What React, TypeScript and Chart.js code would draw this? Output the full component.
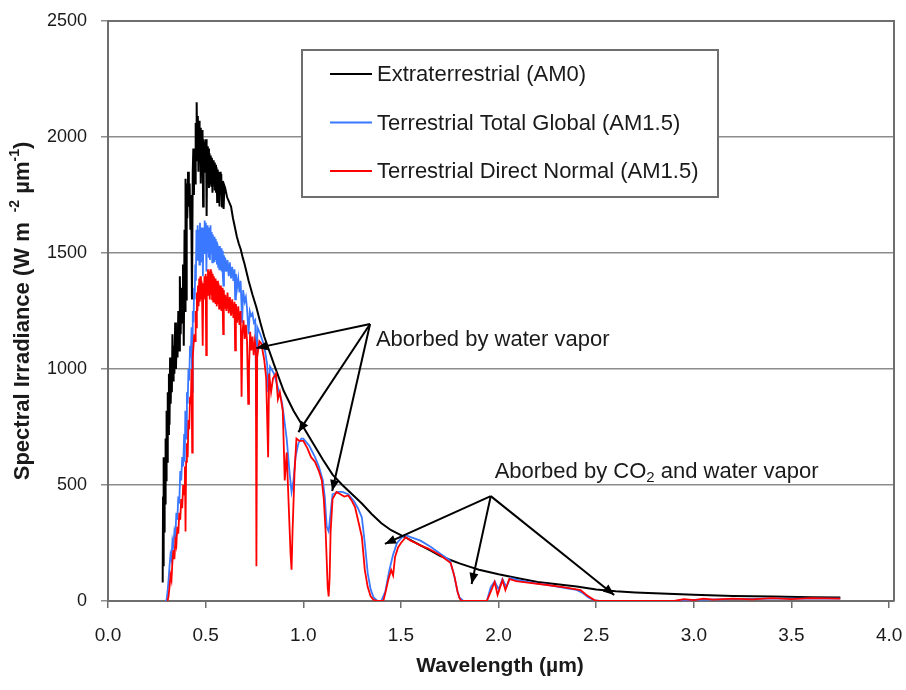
import React, { useEffect, useRef } from 'react';
import { Chart, registerables } from 'chart.js';

Chart.register(...registerables);

// ---------- data (wavelength in µm, spectral irradiance in W m-2 µm-1) ----------
const am0Wavelength = [
  0.280, 0.282, 0.284, 0.286, 0.288, 0.290, 0.292, 0.295, 0.298, 0.300, 0.303, 0.306, 0.309, 0.312, 0.315,
  0.318, 0.321, 0.324, 0.327, 0.330, 0.333, 0.336, 0.340, 0.344, 0.348, 0.352, 0.356, 0.360, 0.364, 0.368,
  0.372, 0.376, 0.380, 0.384, 0.388, 0.392, 0.395, 0.397, 0.400, 0.403, 0.406, 0.410, 0.414, 0.418, 0.422,
  0.426, 0.430, 0.434, 0.437,
  0.440, 0.443, 0.446, 0.449, 0.452, 0.454, 0.457, 0.460, 0.463, 0.466, 0.469, 0.472, 0.475, 0.478, 0.481,
  0.484, 0.487, 0.490, 0.493, 0.496, 0.499, 0.502, 0.505, 0.508, 0.511, 0.514, 0.517, 0.520, 0.523, 0.526,
  0.529, 0.532, 0.535, 0.538, 0.541, 0.544, 0.547, 0.550, 0.553, 0.556, 0.559, 0.562, 0.565, 0.568, 0.571,
  0.574, 0.577, 0.580, 0.584, 0.588, 0.592, 0.596,
  0.600, 0.610, 0.620, 0.630, 0.640, 0.650, 0.660, 0.670, 0.680, 0.690, 0.700, 0.720, 0.740, 0.760, 0.780,
  0.800, 0.850, 0.900, 0.950, 1.000, 1.050, 1.100, 1.150, 1.200, 1.250, 1.300, 1.350, 1.400, 1.450, 1.500,
  1.550, 1.600, 1.650, 1.700, 1.750, 1.800, 1.850, 1.900, 1.950, 2.000, 2.100, 2.200, 2.300, 2.400, 2.500,
  2.600, 2.700, 2.800, 3.000, 3.200, 3.400, 3.600, 3.750,
];
const am0Irradiance = [
  80, 450, 150, 620, 300, 560, 420, 700, 520, 820, 600, 900, 720, 980, 760,
  1050, 850, 1000, 900, 1150, 950, 1100, 980, 1200, 1000, 1150, 1050, 1250, 1080, 1400,
  1150, 1350, 1200, 1450, 1100, 1600, 1250, 1820, 1300, 1800, 1650, 1850, 1700, 1800, 1600,
  1750, 1300, 1850, 1950,
  1750, 1950, 1800, 2060, 1900, 2150, 1950, 2090, 1850, 2070, 1920, 2040, 1800, 2010, 1880,
  2030, 1700, 1990, 1850, 1980, 1870, 1990, 1660, 1960, 1820, 1950, 1780, 1930, 1800, 1920,
  1790, 1910, 1760, 1900, 1790, 1890, 1770, 1880, 1760, 1870, 1720, 1860, 1740, 1850, 1700,
  1850, 1750, 1840, 1700, 1810, 1690, 1790,
  1780, 1740, 1720, 1700, 1650, 1610, 1570, 1540, 1515, 1480, 1450, 1380, 1320, 1265, 1200,
  1140, 1020, 905, 820, 750, 680, 610, 545, 500, 460, 420, 375, 335, 305, 284,
  262, 240, 218, 195, 178, 162, 148, 135, 125, 115, 98, 82, 72, 62, 50,
  42, 37, 33, 27, 22, 19, 16, 15,
];

const globalWavelength = [
  0.295, 0.300, 0.305, 0.310, 0.315, 0.320, 0.325, 0.330, 0.335, 0.340, 0.345, 0.350, 0.355, 0.360, 0.365,
  0.370, 0.375, 0.380, 0.385, 0.390, 0.393, 0.396, 0.400, 0.404, 0.408, 0.412, 0.416, 0.420, 0.424, 0.428,
  0.431, 0.434, 0.438, 0.441,
  0.444, 0.447, 0.450, 0.453, 0.456, 0.459, 0.462, 0.465, 0.468, 0.471, 0.474, 0.477, 0.480, 0.483, 0.486,
  0.489, 0.492, 0.495, 0.498, 0.501, 0.504, 0.507, 0.510, 0.513, 0.516, 0.519, 0.522, 0.525, 0.528, 0.531,
  0.534, 0.537, 0.540, 0.543, 0.546, 0.549, 0.552, 0.555, 0.558, 0.561, 0.564, 0.567, 0.570, 0.573, 0.576,
  0.579, 0.582, 0.585, 0.588, 0.591, 0.594, 0.597,
  0.600, 0.606, 0.612, 0.618, 0.624, 0.630, 0.636, 0.642, 0.648, 0.651, 0.655, 0.661, 0.667, 0.673, 0.679,
  0.687, 0.692, 0.700, 0.706, 0.712, 0.720, 0.726, 0.733, 0.740, 0.747, 0.754, 0.760, 0.765,
  0.780, 0.800, 0.815, 0.820, 0.830, 0.850, 0.870, 0.890, 0.900, 0.915, 0.930, 0.940, 0.950, 0.960, 0.975,
  0.990, 1.000, 1.030, 1.060, 1.080, 1.100, 1.110, 1.120, 1.130, 1.140, 1.150, 1.180, 1.200, 1.230, 1.260,
  1.280, 1.300, 1.315, 1.330, 1.345, 1.360, 1.380, 1.400, 1.420, 1.440, 1.460, 1.480, 1.500, 1.520, 1.550,
  1.600, 1.650, 1.700, 1.750, 1.770, 1.790, 1.800, 1.820, 1.940, 1.960, 1.980, 2.000, 2.020, 2.040, 2.060,
  2.100, 2.150, 2.200, 2.250, 2.300, 2.350, 2.400, 2.430, 2.460, 2.490, 2.520, 2.900, 3.000, 3.200, 3.400,
  3.600, 3.750,
];
const globalIrradiance = [
  0, 5, 40, 90, 150, 200, 180, 260, 240, 300, 280, 380, 350, 450, 420,
  560, 520, 620, 580, 720, 600, 820, 700, 900, 850, 1000, 950, 1100, 1050, 1180,
  900, 1250, 1200, 1350,
  1300, 1450, 1380, 1600, 1470, 1620, 1500, 1600, 1450, 1630, 1510, 1610, 1460, 1600, 1400,
  1610, 1500, 1640, 1520, 1630, 1420, 1620, 1500, 1600, 1480, 1610, 1470, 1620, 1500, 1590,
  1460, 1580, 1470, 1570, 1460, 1560, 1470, 1550, 1450, 1540, 1440, 1530, 1430, 1530, 1440,
  1520, 1420, 1510, 1400, 1360, 1490, 1420,
  1480, 1420, 1470, 1400, 1460, 1390, 1440, 1380, 1430, 1300, 1410, 1350, 1390, 1330, 1380,
  1200, 1340, 1290, 1310, 1260, 1150, 1250, 1230, 1240, 1200, 1210, 800, 1180,
  1150, 1100, 1020, 900, 1010, 980, 920, 860, 800, 700, 550, 470, 520, 620, 680,
  700, 700, 670, 620, 580, 520, 450, 320, 300, 380, 460, 470, 470, 460, 430,
  400, 360, 250, 120, 50, 15, 0, 2, 40, 130, 200, 250, 270, 285, 275,
  260, 235, 205, 175, 120, 40, 15, 0, 0, 60, 85, 50, 95, 60, 100,
  90, 82, 75, 70, 62, 55, 48, 35, 15, 3, 0, 0, 5, 8, 10,
  10, 10,
];

const directWavelength = [
  0.305, 0.310, 0.315, 0.320, 0.325, 0.330, 0.335, 0.340, 0.345, 0.350, 0.355, 0.360, 0.365, 0.370, 0.375,
  0.380, 0.385, 0.390, 0.394, 0.397, 0.400, 0.404, 0.408, 0.412, 0.416, 0.420, 0.424, 0.428, 0.431, 0.434,
  0.438, 0.442,
  0.446, 0.449, 0.452, 0.455, 0.458, 0.461, 0.464, 0.467, 0.470, 0.473, 0.476, 0.479, 0.482, 0.485, 0.488,
  0.491, 0.494, 0.497, 0.500, 0.503, 0.506, 0.509, 0.512, 0.515, 0.518, 0.521, 0.524, 0.527, 0.530, 0.533,
  0.536, 0.539, 0.542, 0.545, 0.548, 0.551, 0.554, 0.557, 0.560, 0.563, 0.566, 0.569, 0.572, 0.575, 0.578,
  0.581, 0.584, 0.587, 0.590, 0.593, 0.596,
  0.600, 0.606, 0.612, 0.618, 0.624, 0.630, 0.636, 0.642, 0.648, 0.651, 0.655, 0.661, 0.667, 0.673, 0.679,
  0.684, 0.688, 0.694, 0.700, 0.706, 0.712, 0.718, 0.722, 0.728, 0.734, 0.740, 0.746, 0.752, 0.757, 0.760,
  0.764,
  0.775, 0.785, 0.800, 0.810, 0.820, 0.825, 0.835, 0.845, 0.860, 0.870, 0.880, 0.895, 0.905, 0.915, 0.925,
  0.935, 0.940, 0.945, 0.955, 0.965, 0.980, 1.000, 1.020, 1.040, 1.060, 1.080, 1.095, 1.105, 1.115, 1.125,
  1.130, 1.135, 1.140, 1.150, 1.170, 1.190, 1.210, 1.230, 1.250, 1.265, 1.280, 1.300, 1.315, 1.330, 1.345,
  1.360, 1.380, 1.410, 1.420, 1.435, 1.450, 1.460, 1.470, 1.485, 1.500, 1.525, 1.550, 1.570, 1.600, 1.640,
  1.700, 1.755, 1.775, 1.790, 1.800, 1.810, 1.940, 1.960, 1.980, 1.995, 2.020, 2.035, 2.055, 2.090, 2.160,
  2.250, 2.330, 2.420, 2.450, 2.490, 2.510, 2.900, 2.950, 3.000, 3.050, 3.100, 3.200, 3.300, 3.400, 3.500,
  3.600, 3.750,
];
const directIrradiance = [
  0, 20, 60, 110, 90, 170, 220, 180, 260, 240, 320, 290, 380, 350, 440,
  400, 500, 460, 580, 300, 600, 680, 620, 780, 740, 880, 850, 1000, 640, 1050,
  1100, 1150,
  1120, 1250, 1180, 1330, 1250, 1360, 1270, 1390, 1290, 1400, 1300, 1380, 1290, 1100, 1370,
  1300, 1400, 1310, 1410, 1060, 1400, 1320, 1430, 1330, 1420, 1300, 1430, 1320, 1420, 1300,
  1410, 1290, 1400, 1300, 1390, 1280, 1380, 1270, 1380, 1280, 1370, 1260, 1360, 1280, 1360,
  1250, 1350, 1280, 1150, 1340, 1260,
  1320, 1250, 1330, 1240, 1310, 1230, 1300, 1220, 1290, 1080, 1280, 1200, 1270, 1190, 1250,
  880, 1150, 1210, 1130, 1190, 1120, 850, 1000, 1160, 1080, 1140, 1060, 1120, 1090, 150,
  1050,
  1120, 1110, 1040, 960, 620, 980, 900, 960, 980, 870, 900, 820, 520, 640, 420,
  200, 135, 300, 550, 700, 690, 690, 660, 620, 600, 560, 520, 440, 290, 60,
  20, 100, 300, 440, 470, 460, 450, 455, 430, 405, 350, 276, 134, 60, 20,
  5, 0, 0, 34, 90, 134, 110, 190, 230, 250, 275, 260, 252, 240, 226,
  198, 164, 103, 40, 12, 0, 0, 40, 82, 26, 90, 47, 95, 86, 78,
  69, 60, 47, 26, 4, 0, 0, 8, 4, 10, 6, 10, 7, 12, 8,
  12, 10,
];

const xTickValues = [0, 0.5, 1.0, 1.5, 2.0, 2.5, 3.0, 3.5, 4.0];

const seriesLabels = [
  'Extraterrestrial (AM0)',
  'Terrestrial Total Global (AM1.5)',
  'Terrestrial Direct Normal (AM1.5)',
];
const seriesColors = ['#000000', '#3a78ff', '#ff0000'];

// annotation text anchors and arrows (data coordinates)
const waterText = { x: 1.372, y: 1125, text: 'Aborbed by water vapor' };
const waterOrigin = { x: 1.342, y: 1194 };
const waterTips = [
  { x: 0.76, y: 1090 },
  { x: 0.975, y: 728 },
  { x: 1.148, y: 474 },
];
const co2Text = { x: 1.98, y: 556 };
const co2Origin = { x: 1.96, y: 452 };
const co2Tips = [
  { x: 1.418, y: 246 },
  { x: 1.862, y: 73 },
  { x: 2.592, y: 26 },
];

const FONT = '"Liberation Sans", Arial, Helvetica, sans-serif';

function toPoints(xs: number[], ys: number[]) {
  return xs.map((x, i) => ({ x, y: ys[i] }));
}

function drawArrow(ctx: CanvasRenderingContext2D, x1: number, y1: number, x2: number, y2: number) {
  ctx.beginPath();
  ctx.moveTo(x1, y1);
  ctx.lineTo(x2, y2);
  ctx.stroke();
  const a = Math.atan2(y2 - y1, x2 - x1);
  const L = 11;
  const W = 4.5;
  const bx = x2 - L * Math.cos(a);
  const by = y2 - L * Math.sin(a);
  ctx.beginPath();
  ctx.moveTo(x2, y2);
  ctx.lineTo(bx + W * Math.sin(a), by - W * Math.cos(a));
  ctx.lineTo(bx - W * Math.sin(a), by + W * Math.cos(a));
  ctx.closePath();
  ctx.fill();
}

const overlayPlugin = {
  id: 'overlay',
  afterDatasetsDraw(chart: any) {
    const { ctx, chartArea } = chart;
    ctx.save();
    ctx.strokeStyle = '#6e6e6e';
    ctx.lineWidth = 2;
    ctx.beginPath();
    ctx.moveTo(chartArea.left, chartArea.top);
    ctx.lineTo(chartArea.right, chartArea.top);
    ctx.lineTo(chartArea.right, chartArea.bottom);
    ctx.stroke();
    ctx.restore();
  },
  afterDraw(chart: any) {
    const { ctx, chartArea } = chart;
    const xs = chart.scales.x;
    const ys = chart.scales.y;
    const px = (v: number) => xs.getPixelForValue(v);
    const py = (v: number) => ys.getPixelForValue(v);
    ctx.save();

    // legend box
    const lx = 302, ly = 50, lw = 416, lh = 147;
    ctx.fillStyle = '#ffffff';
    ctx.fillRect(lx, ly, lw, lh);
    ctx.strokeStyle = '#6e6e6e';
    ctx.lineWidth = 2;
    ctx.strokeRect(lx, ly, lw, lh);
    ctx.font = `22px ${FONT}`;
    ctx.textBaseline = 'middle';
    ctx.textAlign = 'left';
    seriesLabels.forEach((label, i) => {
      const yy = ly + 24 + i * 48.5;
      ctx.strokeStyle = seriesColors[i];
      ctx.lineWidth = 2;
      ctx.beginPath();
      ctx.moveTo(lx + 28, yy);
      ctx.lineTo(lx + 70, yy);
      ctx.stroke();
      ctx.fillStyle = '#1a1a1a';
      ctx.fillText(label, lx + 75, yy + 1);
    });

    // annotations
    ctx.strokeStyle = '#000';
    ctx.fillStyle = '#000';
    ctx.lineWidth = 2;
    waterTips.forEach((t) => drawArrow(ctx, px(waterOrigin.x), py(waterOrigin.y), px(t.x), py(t.y)));
    co2Tips.forEach((t) => drawArrow(ctx, px(co2Origin.x), py(co2Origin.y), px(t.x), py(t.y)));

    ctx.fillStyle = '#1a1a1a';
    ctx.font = `22px ${FONT}`;
    ctx.textBaseline = 'middle';
    ctx.fillText(waterText.text, px(waterText.x), py(waterText.y));

    let cx = px(co2Text.x);
    const cy = py(co2Text.y);
    const p1 = 'Aborbed by CO';
    ctx.fillText(p1, cx, cy);
    cx += ctx.measureText(p1).width;
    ctx.font = `15px ${FONT}`;
    ctx.fillText('2', cx, cy + 6);
    cx += ctx.measureText('2').width;
    ctx.font = `22px ${FONT}`;
    ctx.fillText(' and water vapor', cx, cy);

    // x axis title
    ctx.font = `bold 21px ${FONT}`;
    ctx.textAlign = 'center';
    ctx.fillStyle = '#1a1a1a';
    ctx.fillText('Wavelength (\u00b5m)', 500, 666);

    // y axis title with superscripts
    const parts: { t: string; sup: boolean }[] = [
      { t: 'Spectral Irradiance (W m ', sup: false },
      { t: ' -2', sup: true },
      { t: ' \u00b5m', sup: false },
      { t: '-1', sup: true },
      { t: ')', sup: false },
    ];
    const bigFont = `bold 22px ${FONT}`;
    const smallFont = `bold 14px ${FONT}`;
    let total = 0;
    parts.forEach((p) => {
      ctx.font = p.sup ? smallFont : bigFont;
      total += ctx.measureText(p.t).width;
    });
    ctx.translate(23, (chartArea.top + chartArea.bottom) / 2);
    ctx.rotate(-Math.PI / 2);
    ctx.textAlign = 'left';
    let tx = -total / 2;
    parts.forEach((p) => {
      ctx.font = p.sup ? smallFont : bigFont;
      ctx.fillText(p.t, tx, p.sup ? -8 : 0);
      tx += ctx.measureText(p.t).width;
    });
    ctx.restore();
  },
};

export default function App() {
  const canvasRef = useRef<HTMLCanvasElement>(null);

  useEffect(() => {
    if (!canvasRef.current) return;
    const chart = new Chart(canvasRef.current, {
      type: 'line',
      data: {
        datasets: [
          {
            label: seriesLabels[0],
            data: toPoints(am0Wavelength, am0Irradiance),
            borderColor: seriesColors[0],
            borderWidth: 2,
            pointRadius: 0,
            tension: 0,
            order: 2,
          },
          {
            label: seriesLabels[1],
            data: toPoints(globalWavelength, globalIrradiance),
            borderColor: seriesColors[1],
            borderWidth: 1.8,
            pointRadius: 0,
            tension: 0,
            order: 1,
          },
          {
            label: seriesLabels[2],
            data: toPoints(directWavelength, directIrradiance),
            borderColor: seriesColors[2],
            borderWidth: 1.8,
            pointRadius: 0,
            tension: 0,
            order: 0,
          },
        ],
      },
      options: {
        responsive: false,
        animation: false,
        devicePixelRatio: 1,
        events: [],
        layout: { padding: { left: 0, top: 21, right: 12, bottom: 0 } },
        plugins: {
          legend: { display: false },
          tooltip: { enabled: false },
          title: { display: false },
        },
        scales: {
          x: {
            type: 'linear',
            min: 0,
            max: 4.025,
            afterBuildTicks: (scale: any) => {
              scale.ticks = xTickValues.map((v) => ({ value: v }));
            },
            afterFit: (scale: any) => {
              scale.height = 89;
              scale.paddingLeft = 0;
              scale.paddingRight = 0;
            },
            ticks: {
              callback: (v: any) => Number(v).toFixed(1),
              font: { family: FONT, size: 19 },
              color: '#1a1a1a',
              padding: 16,
              maxRotation: 0,
              autoSkip: false,
            },
            grid: {
              drawOnChartArea: false,
              drawTicks: true,
              tickLength: 7,
              color: '#6e6e6e',
              lineWidth: 1.5,
            },
            border: { color: '#6e6e6e', width: 2 },
          },
          y: {
            type: 'linear',
            min: 0,
            max: 2500,
            afterFit: (scale: any) => {
              scale.width = 108;
              scale.paddingTop = 0;
              scale.paddingBottom = 0;
            },
            ticks: {
              stepSize: 500,
              callback: (v: any) => String(v),
              font: { family: FONT, size: 18 },
              color: '#1a1a1a',
              padding: 14,
            },
            grid: {
              color: '#8c8c8c',
              lineWidth: 1.5,
              tickLength: 7,
            },
            border: { color: '#6e6e6e', width: 2 },
          },
        },
      },
      plugins: [overlayPlugin],
    } as any);
    return () => chart.destroy();
  }, []);

  return (
    <div style={{ position: 'fixed', left: 0, top: 0, width: 906, height: 690, background: '#ffffff' }}>
      <canvas ref={canvasRef} width={906} height={690} style={{ width: 906, height: 690, display: 'block' }} />
    </div>
  );
}
